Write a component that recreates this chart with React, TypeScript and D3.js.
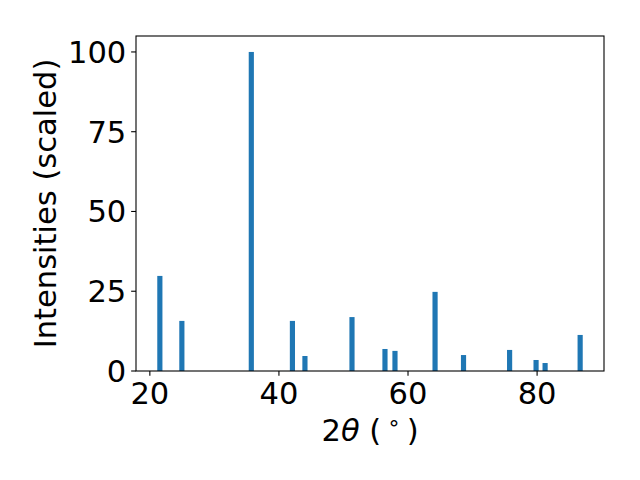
import React from 'react';
import * as d3 from 'd3';

// peak positions (2theta, degrees) and scaled intensities
const twoTheta = [21.55, 24.96, 35.72, 42.09, 44.03, 51.32, 56.43, 57.98, 64.19, 68.6, 75.74, 79.84, 81.24, 86.67];
const intensity = [29.8, 15.7, 100, 15.7, 4.7, 16.9, 6.9, 6.3, 24.8, 5.0, 6.6, 3.45, 2.5, 11.3];
const xTicks = [20, 40, 60, 80];
const yTicks = [0, 25, 50, 75, 100];

const W = 640;
const H = 480;
const margin = { left: 136, right: 36, top: 36, bottom: 109 };
const barWidth = 0.8;
const fontSize = 30.56;
const font = 'DejaVu Sans';

export default function App() {
  const innerW = W - margin.left - margin.right;
  const innerH = H - margin.top - margin.bottom;

  // matplotlib style 5% padding around the bar extents
  const lo = d3.min(twoTheta)! - barWidth / 2;
  const hi = d3.max(twoTheta)! + barWidth / 2;
  const pad = (hi - lo) * 0.05;
  const x = d3.scaleLinear().domain([lo - pad, hi + pad]).range([margin.left, margin.left + innerW]);
  const yMax = d3.max(intensity)!;
  const y = d3.scaleLinear().domain([0, yMax * 1.05]).range([margin.top + innerH, margin.top]);

  const bottom = margin.top + innerH;
  const tick = 4.86;

  return (
    <svg width={W} height={H} style={{ position: 'absolute', left: 0, top: 0, background: '#fff' }}>
      <rect x={0} y={0} width={W} height={H} fill="#fff" />
      {twoTheta.map((t, i) => (
        <rect
          key={i}
          x={x(t - barWidth / 2)}
          y={y(intensity[i])}
          width={x(t + barWidth / 2) - x(t - barWidth / 2)}
          height={bottom - y(intensity[i])}
          fill="#1f77b4"
        />
      ))}
      <rect x={margin.left} y={margin.top} width={innerW} height={innerH} fill="none" stroke="#000" strokeWidth={1.1} />
      {xTicks.map((t) => (
        <g key={t}>
          <line x1={x(t)} x2={x(t)} y1={bottom} y2={bottom + tick} stroke="#000" strokeWidth={1.1} />
          <text x={x(t)} y={bottom + tick + 4.86 + fontSize * 0.76} textAnchor="middle" fontFamily={font} fontSize={fontSize}>
            {t}
          </text>
        </g>
      ))}
      {yTicks.map((t) => (
        <g key={t}>
          <line x1={margin.left - tick} x2={margin.left} y1={y(t)} y2={y(t)} stroke="#000" strokeWidth={1.1} />
          <text x={margin.left - tick - 4.86} y={y(t)} dy="0.36em" textAnchor="end" fontFamily={font} fontSize={fontSize}>
            {t}
          </text>
        </g>
      ))}
      <text x={margin.left + innerW / 2} y={441} textAnchor="middle" fontFamily={font} fontSize={fontSize}>
        2<tspan fontStyle="italic">θ</tspan> (<tspan fontSize={fontSize * 0.7} dx={6} dy={-11}>∘</tspan>
        <tspan dx={6} dy={11}>)</tspan>
      </text>
      <text
        transform={`translate(56, ${margin.top + innerH / 2}) rotate(-90)`}
        textAnchor="middle"
        fontFamily={font}
        fontSize={fontSize}
      >
        Intensities (scaled)
      </text>
    </svg>
  );
}
